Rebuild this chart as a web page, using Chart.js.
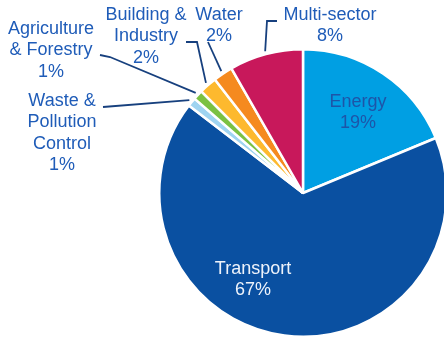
<!DOCTYPE html>
<html>
<head>
<meta charset="utf-8">
<script src="https://cdn.jsdelivr.net/npm/chart.js@4"></script>
<style>
  html, body { margin: 0; padding: 0; background: #fff; }
  #wrap { width: 444px; height: 339px; overflow: hidden; position: relative; }
  #pie { position: absolute; left: 0; top: 0; }
</style>
</head>
<body>
<div id="wrap"><canvas id="pie" width="470" height="339"></canvas></div>
<script>
// sectors, clockwise from 12 o'clock
const sectors = ["Energy", "Transport", "Waste & Pollution Control", "Agriculture & Forestry", "Building & Industry", "Water", "Multi-sector"];
const shares = [18.75, 66.65, 1.0, 1.1, 2.0, 2.2, 8.3];
const shareLabels = ["19%", "67%", "1%", "1%", "2%", "2%", "8%"];
const colors = ["#009fe3", "#0a50a1", "#9fd4f1", "#7bc142", "#fdb92e", "#f58a1f", "#c8185b"];

// label text lines + where they sit; leader = points before the arc
const labelLayout = [
  { lines: ["Energy"], x: 358, y: 102, color: "#1d55a8" },
  { lines: ["Transport"], x: 253, y: 269, color: "#eef3fb" },
  { lines: ["Waste &", "Pollution", "Control"], x: 62, y: 101, color: "#1f5cb8", leader: [[103, 107]] },
  { lines: ["Agriculture", "& Forestry"], x: 51, y: 29, color: "#1f5cb8", leader: [[100, 55], [110, 57]] },
  { lines: ["Building &", "Industry"], x: 146, y: 15, color: "#1f5cb8", leader: [[186, 42], [197, 42]] },
  { lines: ["Water"], x: 219, y: 15, color: "#1f5cb8", leader: [[208, 42]] },
  { lines: ["Multi-sector"], x: 330, y: 15, color: "#1f5cb8", leader: [[277, 21], [267, 21]] }
];

const labelPlugin = {
  id: "sectorLabels",
  afterDraw(chart) {
    const ctx = chart.ctx;
    const arcs = chart.getDatasetMeta(0).data;
    ctx.save();
    ctx.font = "18px 'Liberation Sans', Arial, sans-serif";
    ctx.textAlign = "center";
    ctx.textBaseline = "middle";
    labelLayout.forEach((lab, i) => {
      const arc = arcs[i];
      if (lab.leader) {
        const mid = (arc.startAngle + arc.endAngle) / 2;
        const r = arc.outerRadius + 3;
        const ex = arc.x + Math.cos(mid) * r;
        const ey = arc.y + Math.sin(mid) * r;
        ctx.strokeStyle = "#17407e";
        ctx.lineWidth = 1.8;
        ctx.beginPath();
        ctx.moveTo(lab.leader[0][0], lab.leader[0][1]);
        lab.leader.slice(1).forEach(p => ctx.lineTo(p[0], p[1]));
        ctx.lineTo(ex, ey);
        ctx.stroke();
      }
      ctx.fillStyle = lab.color;
      const all = [...lab.lines, shareLabels[i]];
      all.forEach((t, k) => ctx.fillText(t, lab.x, lab.y + k * 21.3));
    });
    ctx.restore();
  }
};

new Chart(document.getElementById("pie"), {
  type: "pie",
  data: {
    labels: sectors,
    datasets: [{
      data: shares,
      backgroundColor: colors,
      borderColor: "#ffffff",
      borderWidth: 2.5,
      hoverOffset: 0
    }]
  },
  options: {
    responsive: false,
    animation: false,
    layout: { padding: { left: 158, top: 47, right: 22, bottom: 0 } },
    plugins: { legend: { display: false }, tooltip: { enabled: false } }
  },
  plugins: [labelPlugin]
});
</script>
</body>
</html>
